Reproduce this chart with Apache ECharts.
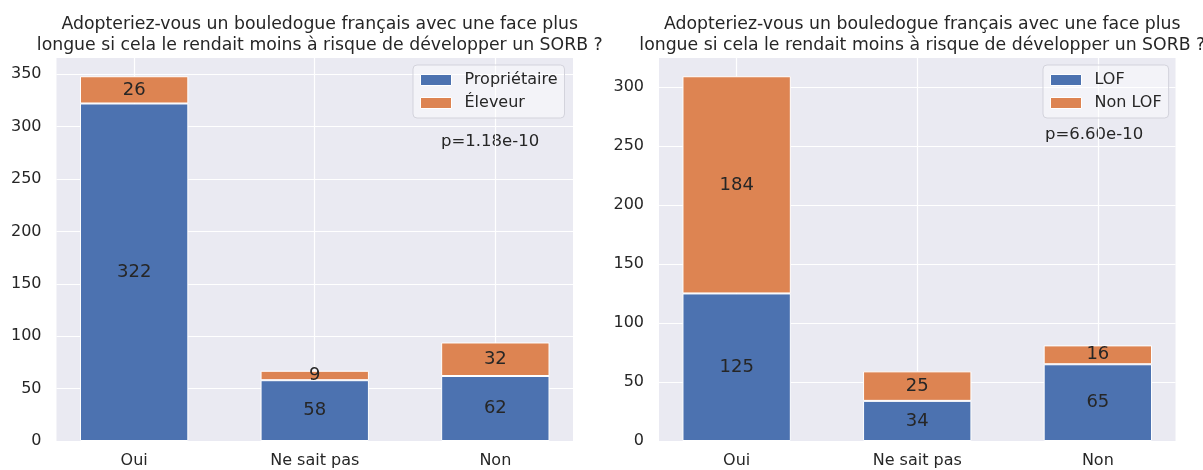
<!DOCTYPE html>
<html>
<head>
<meta charset="utf-8">
<script src="https://cdn.jsdelivr.net/npm/echarts@6/dist/echarts.min.js"></script>
<style>
  html, body { margin: 0; padding: 0; background: #ffffff; }
  #chart { width: 1203px; height: 470px; }
</style>
</head>
<body>
<div id="chart"></div>
<script>
// Survey answers, split by respondent type (left) and by pedigree status (right)
const categories = ['Oui', 'Ne sait pas', 'Non'];
const proprietaire = [322, 58, 62];
const eleveur = [26, 9, 32];
const lof = [125, 34, 65];
const nonLof = [184, 25, 16];
const yTicksLeft = [0, 50, 100, 150, 200, 250, 300, 350];
const yTicksRight = [0, 50, 100, 150, 200, 250, 300];
const pLeft = 'p=1.18e-10';
const pRight = 'p=6.60e-10';
const titleText = 'Adopteriez-vous un bouledogue français avec une face plus\nlongue si cela le rendait moins à risque de développer un SORB ?';

const FONT = 'DejaVu Sans';
const TEXT = '#262626';
const BLUE = '#4c72b0';
const ORANGE = '#dd8452';
const BG = '#eaeaf2';

// Panel geometry
const panels = [
  { left: 56.5, width: 516.5 },
  { left: 659, width: 516.5 }
];
const TOP = 58, HEIGHT = 383;
const X_MIN = -0.43, X_MAX = 2.43;
const barPx = p => 0.6 * p.width / (X_MAX - X_MIN);

const totals = (a, b) => a.map((v, i) => v + b[i]);
const yMaxLeft = Math.max(...totals(proprietaire, eleveur)) * 1.05;
const yMaxRight = Math.max(...totals(lof, nonLof)) * 1.05;

function xAxisFor(idx) {
  return {
    type: 'value', gridIndex: idx, min: X_MIN, max: X_MAX,
    axisLine: { show: false },
    axisTick: { show: false, customValues: [0, 1, 2] },
    axisLabel: {
      customValues: [0, 1, 2],
      formatter: v => categories[Math.round(v)],
      color: TEXT, fontFamily: FONT, fontSize: 16, margin: 12
    },
    splitLine: { show: true, lineStyle: { color: '#ffffff', width: 1.2 } }
  };
}
function yAxisFor(idx, max, ticks) {
  return {
    type: 'value', gridIndex: idx, min: 0, max: max, interval: 50,
    axisLine: { show: false },
    axisTick: { show: false, customValues: ticks },
    axisLabel: { customValues: ticks, color: TEXT, fontFamily: FONT, fontSize: 16, margin: 15 },
    splitLine: { show: true, lineStyle: { color: '#ffffff', width: 1.2 } }
  };
}
// Value first, position second, so the stack is computed on the count dimension
function barSeries(name, values, color, idx, stack) {
  return {
    type: 'bar', name: name, xAxisIndex: idx, yAxisIndex: idx, stack: stack,
    barWidth: barPx(panels[idx]),
    data: values.map((v, i) => [v, i]),
    encode: { x: 1, y: 0 },
    itemStyle: { color: color, borderColor: '#ffffff', borderWidth: 1 },
    label: {
      show: true, position: 'inside', formatter: p => String(p.value[0]),
      color: TEXT, fontFamily: FONT, fontSize: 18
    },
    emphasis: { disabled: true },
    animation: false
  };
}
function legendFor(idx, names, left) {
  return {
    data: names, orient: 'vertical', left: left, top: 65,
    icon: 'rect', itemWidth: 31, itemHeight: 11, itemGap: 7, padding: [7, 7, 7, 7],
    textStyle: { color: TEXT, fontFamily: FONT, fontSize: 16, lineHeight: 16, padding: [0, 0, 0, 8] },
    backgroundColor: 'rgba(255,255,255,0.45)', borderColor: '#d3d3dc', borderWidth: 1, borderRadius: 4,
    itemStyle: { borderColor: '#ffffff', borderWidth: 1 },
    selectedMode: false
  };
}

const chart = echarts.init(document.getElementById('chart'), null, { renderer: 'canvas' });
chart.setOption({
  backgroundColor: '#ffffff',
  animation: false,
  textStyle: { fontFamily: FONT },
  title: panels.map(p => ({
    text: titleText, left: p.left + p.width / 2, top: 9.5, textAlign: 'center',
    textStyle: { color: TEXT, fontFamily: FONT, fontSize: 17.3, fontWeight: 'normal', lineHeight: 21 }
  })),
  grid: panels.map(p => ({
    left: p.left, top: TOP, width: p.width, height: HEIGHT,
    show: true, backgroundColor: BG, borderWidth: 0, containLabel: false
  })),
  xAxis: [xAxisFor(0), xAxisFor(1)],
  yAxis: [yAxisFor(0, yMaxLeft, yTicksLeft), yAxisFor(1, yMaxRight, yTicksRight)],
  legend: [
    legendFor(0, ['Propriétaire', 'Éleveur'], 413),
    legendFor(1, ['LOF', 'Non LOF'], 1043)
  ],
  graphic: [
    { type: 'text', left: 441, top: 133, style: { text: pLeft, fill: TEXT, font: '16.5px "DejaVu Sans"' } },
    { type: 'text', left: 1045, top: 126, style: { text: pRight, fill: TEXT, font: '16.5px "DejaVu Sans"' } }
  ],
  series: [
    barSeries('Propriétaire', proprietaire, BLUE, 0, 'a'),
    barSeries('Éleveur', eleveur, ORANGE, 0, 'a'),
    barSeries('LOF', lof, BLUE, 1, 'b'),
    barSeries('Non LOF', nonLof, ORANGE, 1, 'b')
  ]
});
</script>
</body>
</html>
